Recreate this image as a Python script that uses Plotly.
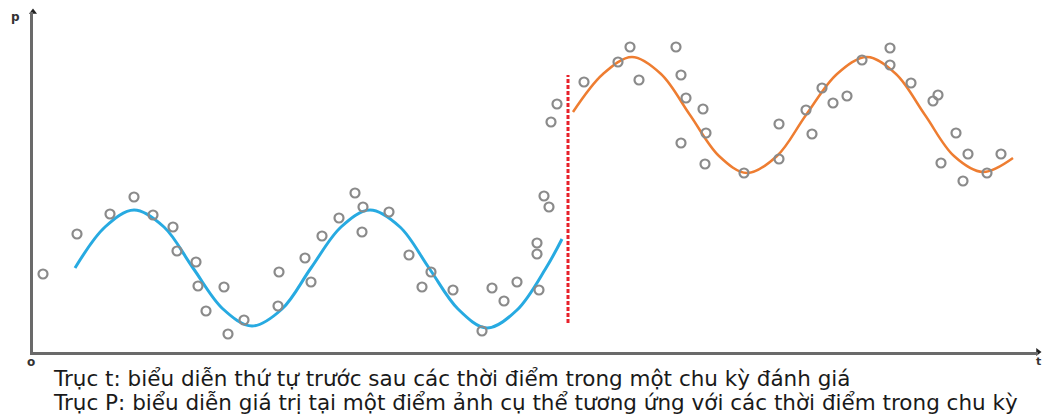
import plotly.graph_objects as go

# Observed sample points (t, P) in chart units
obs_t = [10, 44, 77, 101, 120, 140, 144, 163, 165, 191, 173, 211, 195, 245, 246, 272, 278, 289, 306, 322,
         330, 329, 356, 376, 389, 398, 420, 449, 459, 471, 484, 506, 504, 504, 511, 516, 518, 524,
         551, 585, 597, 606, 643, 648, 653, 670, 673, 648, 672, 711, 746, 746, 773, 779, 789, 800,
         814, 829, 857, 857, 878, 900, 905, 923, 908, 935, 930, 954, 968]
obs_p = [78, 118, 138, 155, 137, 125, 101, 90, 66, 65, 41, 32, 18, 46, 80, 94, 70, 116, 134, 159,
         145, 120, 140, 97, 65, 80, 62, 21, 64, 51, 70, 62, 98, 109, 156, 145, 230, 248,
         270, 290, 305, 272, 305, 277, 254, 243, 219, 209, 188, 179, 228, 193, 242, 218, 264, 249,
         256, 292, 304, 287, 269, 251, 257, 219, 189, 198, 171, 179, 198]

# Fitted curve before the change (knots)
before_t = [42, 72, 101, 131, 160, 190, 219, 249, 278, 308, 337, 367, 396, 425, 454, 484, 513, 529]
before_p = [84, 125, 142, 125, 84, 43, 26, 43, 84, 125, 142, 125, 84, 43, 24, 42, 84, 113]

# Fitted curve after the change (knots)
after_t = [540, 570, 599, 628, 657, 686, 714, 744, 773, 804, 834, 863, 892, 921, 950, 980]
after_p = [240, 278, 295, 278, 237, 196, 179, 196, 237, 278, 295, 278, 237, 196, 180, 194]

# Change point (red dashed line)
change_t = [535, 535]
change_p = [29, 277]

caption_lines = [
    "Trục t: biểu diễn thứ tự trước sau các thời điểm trong một chu kỳ đánh giá",
    "Trục P: biểu diễn giá trị tại một điểm ảnh cụ thể tương ứng với các thời điểm trong chu kỳ",
]

X_MAX = 1005
Y_MAX = 340

fig = go.Figure()

fig.add_trace(go.Scatter(x=before_t, y=before_p, mode="lines",
                         line=dict(color="#27aae1", width=3, shape="spline", smoothing=1.0),
                         hoverinfo="skip"))
fig.add_trace(go.Scatter(x=after_t, y=after_p, mode="lines",
                         line=dict(color="#ee7d31", width=2.5, shape="spline", smoothing=1.0),
                         hoverinfo="skip"))
fig.add_trace(go.Scatter(x=change_t, y=change_p, mode="lines",
                         line=dict(color="#e8202a", width=3, dash="4px,2px"),
                         hoverinfo="skip"))
fig.add_trace(go.Scatter(x=obs_t, y=obs_p, mode="markers",
                         marker=dict(symbol="circle-open", size=9,
                                     line=dict(color="#8a8a8a", width=2.2), color="#8a8a8a"),
                         hoverinfo="skip"))

# axis arrowheads
fig.add_trace(go.Scatter(x=[0], y=[Y_MAX], mode="markers", cliponaxis=False,
                         marker=dict(symbol="triangle-up", size=7, color="#222"), hoverinfo="skip"))
fig.add_trace(go.Scatter(x=[X_MAX], y=[0], mode="markers", cliponaxis=False,
                         marker=dict(symbol="triangle-right", size=7, color="#222"), hoverinfo="skip"))

fig.update_layout(
    width=1043, height=414,
    margin=dict(l=33, r=5, t=12, b=62),
    paper_bgcolor="white", plot_bgcolor="white",
    showlegend=False,
    xaxis=dict(range=[0, X_MAX], showgrid=False, zeroline=False, showticklabels=False,
               ticks="", showline=True, linecolor="#6a6a6a", linewidth=3),
    yaxis=dict(range=[0, Y_MAX], showgrid=False, zeroline=False, showticklabels=False,
               ticks="", showline=True, linecolor="#6a6a6a", linewidth=3),
    font=dict(family="DejaVu Sans", color="#1a1a1a"),
)

# helpers: pixel -> paper coords (plot area spans x 33..1038, y 12..352)
def px_x(px):
    return (px - 33) / X_MAX

def px_y(py):
    return (352 - py) / Y_MAX

fig.add_annotation(text="<b>p</b>", x=px_x(15), y=px_y(17), xref="paper", yref="paper",
                   showarrow=False, font=dict(size=12, family="DejaVu Sans", color="#333"),
                   xanchor="center", yanchor="middle")
fig.add_annotation(text="<b>o</b>", x=px_x(31), y=px_y(362), xref="paper", yref="paper",
                   showarrow=False, font=dict(size=12, family="DejaVu Sans", color="#333"),
                   xanchor="center", yanchor="middle")
fig.add_annotation(text="<b>t</b>", x=px_x(1038), y=px_y(362), xref="paper", yref="paper",
                   showarrow=False, font=dict(size=11, family="DejaVu Sans", color="#333"),
                   xanchor="center", yanchor="middle")

for line, py in zip(caption_lines, [378, 402]):
    fig.add_annotation(text=line, x=px_x(51), y=px_y(py), xref="paper", yref="paper",
                       showarrow=False, xanchor="left", yanchor="middle",
                       font=dict(size=21.5, family="DejaVu Sans", color="#1a1a1a"))

fig.write_html(
    "out.html",
    config={"displayModeBar": False, "staticPlot": True},
    post_script="document.body.style.margin='0';document.body.style.overflow='hidden';",
)
